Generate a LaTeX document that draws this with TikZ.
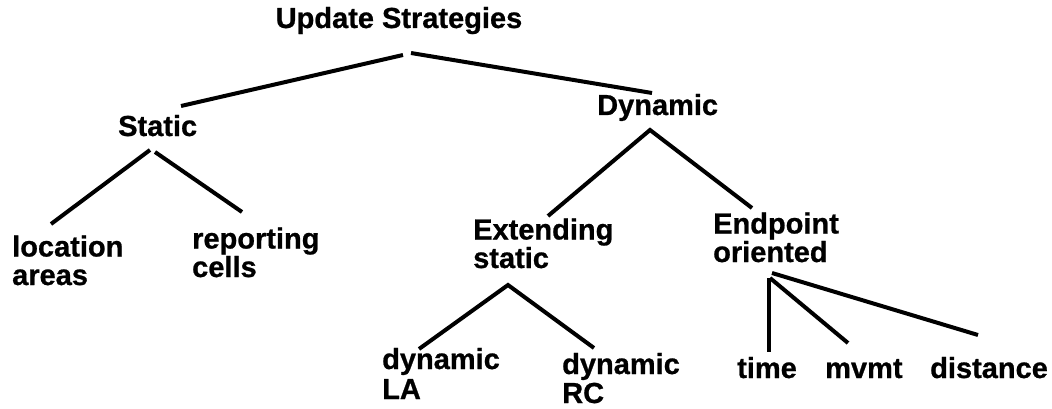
\documentclass[tikz,border=0pt]{standalone}
\usepackage{fontspec}
\setmainfont[BoldFeatures={FakeBold=0.8}]{Liberation Sans}
\usetikzlibrary{positioning}

\tikzset{
    lbl/.style={anchor=base west, inner sep=0pt, align=left,
        font=\fontsize{29}{28.5}\selectfont\bfseries},
    branch/.style={line width=4pt}
}

\begin{document}
\begin{tikzpicture}[x=1pt, y=-1pt]
    \useasboundingbox (0,0) rectangle (1052,409);

    % Top of the tree
    \node[lbl, anchor=base] (root) at (399,28) {Update Strategies};
    \node[lbl] (static) at (118,136) {Static};
    \node[lbl] (dynamic) at (597,115) {Dynamic};

    % Static branch (base = last line)
    \node[lbl] (location) at (12,285) {location\\areas};
    \node[lbl] (reporting) at (192,277) {reporting\\cells};

    % Dynamic branch
    \node[lbl] (extending) at (473,268) {Extending\\static};
    \node[lbl] (endpoint) at (713,262) {Endpoint\\oriented};
    \node[lbl, font=\fontsize{29}{30}\selectfont\bfseries] (dynla) at (382,399) {dynamic\\LA};
    \node[lbl, font=\fontsize{29}{29}\selectfont\bfseries] (dynrc) at (562,403) {dynamic\\RC};
    \node[lbl] (time) at (737,378) {time};
    \node[lbl] (mvmt) at (825,378) {mvmt};
    \node[lbl] (distance) at (930,378) {distance};

    % Branches
    \draw[branch] ([shift={(4,27)}]root.base) -- ([shift={(63,-30)}]static.base west);
    \draw[branch] ([shift={(12,25)}]root.base) -- ([shift={(55,-22)}]dynamic.base west);
    \draw[branch] ([shift={(32,14)}]static.base west) -- ([shift={(39,-61)}]location.base west);
    \draw[branch] ([shift={(37,16)}]static.base west) -- ([shift={(50,-65)}]reporting.base west);
    \draw[branch] ([shift={(75,-52)}]extending.base west) -- ([shift={(53,15)}]dynamic.base west)
        -- ([shift={(39,-54)}]endpoint.base west);
    \draw[branch] ([shift={(37,-50)}]dynla.base west) -- ([shift={(35,17)}]extending.base west)
        -- ([shift={(32,-55)}]dynrc.base west);
    \draw[branch] ([shift={(56,16)}]endpoint.base west) -- ([shift={(32,-26)}]time.base west);
    \draw[branch] ([shift={(57,16)}]endpoint.base west) -- ([shift={(23,-35)}]mvmt.base west);
    \draw[branch] ([shift={(59,11)}]endpoint.base west) -- ([shift={(48,-43)}]distance.base west);
\end{tikzpicture}
\end{document}
